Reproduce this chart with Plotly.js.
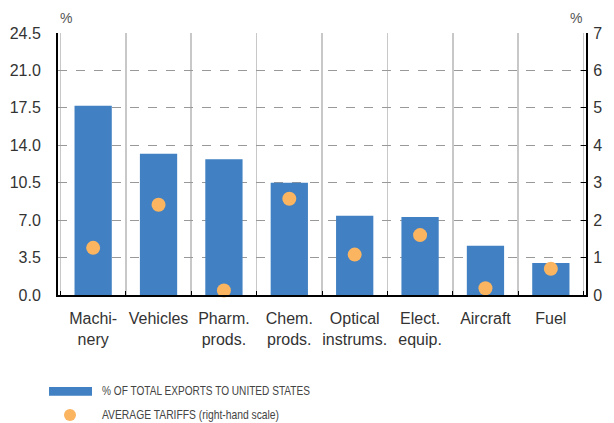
<!DOCTYPE html>
<html>
<head>
<meta charset="utf-8">
<script src="https://cdn.plot.ly/plotly-3.0.1.min.js"></script>
<style>html,body{margin:0;padding:0;background:#fff;}#chart{width:614px;height:423px;}</style>
</head>
<body>
<div id="chart"></div>
<script>
const categories = ["Machi-<br>nery", "Vehicles", "Pharm.<br>prods.", "Chem.<br>prods.", "Optical<br>instrums.", "Elect.<br>equip.", "Aircraft", "Fuel"];
const exportShare = [17.7, 13.2, 12.7, 10.5, 7.4, 7.3, 4.6, 3.0];
const avgTariff = [1.26, 2.41, 0.12, 2.57, 1.08, 1.6, 0.18, 0.7];
const leftTicks = [0, 3.5, 7, 10.5, 14, 17.5, 21, 24.5];
const rightTicks = [0, 1, 2, 3, 4, 5, 6, 7];
const legendLabels = ["% OF TOTAL EXPORTS TO UNITED STATES", "AVERAGE TARIFFS (right-hand scale)"];

const barColor = "#4180c2";
const dotColor = "#fbb460";
const fam = "'Liberation Sans', Arial, Helvetica, sans-serif";
const tickFont = {family: fam, size: 16, color: "#333"};
const catFont = {family: fam, size: 16, color: "#333"};
const legFont = {family: fam, size: 13, color: "#444"};

const traces = [
  {type: "bar", x: categories, y: exportShare, marker: {color: barColor}, width: 0.57, yaxis: "y", showlegend: false, hoverinfo: "none"},
  {type: "scatter", mode: "markers", x: categories, y: avgTariff, yaxis: "y2", marker: {color: dotColor, size: 14}, cliponaxis: false, showlegend: false, hoverinfo: "none"}
];

const layout = {
  width: 614, height: 423,
  margin: {l: 58, r: 28, t: 33, b: 128},
  paper_bgcolor: "#fff", plot_bgcolor: "#fff",
  showlegend: false,
  font: {family: fam},
  xaxis: {
    type: "category", tickson: "boundaries", showgrid: true, gridcolor: "#c8c8c8", gridwidth: 1.5,
    ticks: "inside", ticklen: 4, tickcolor: "#000", showline: true, linecolor: "#000", linewidth: 2,
    tickfont: catFont, tickangle: 0, zeroline: false, ticklabelstandoff: 8
  },
  yaxis: {
    range: [0, 24.5], tickvals: leftTicks, ticktext: leftTicks.map(v => v.toFixed(1)),
    showgrid: true, gridcolor: "#999", griddash: "dash", gridwidth: 1,
    showline: true, linecolor: "#000", linewidth: 2, zeroline: false, ticks: "",
    tickfont: tickFont, ticklabelstandoff: 12
  },
  yaxis2: {
    range: [0, 7], tickvals: rightTicks, overlaying: "y", side: "right",
    showgrid: false, showline: true, linecolor: "#000", linewidth: 2, zeroline: false,
    ticks: "inside", ticklen: 5, tickcolor: "#000", tickfont: tickFont, ticklabelstandoff: 2
  },
  annotations: [
    {xref: "paper", yref: "paper", x: 0, y: 1, xanchor: "left", yanchor: "bottom", yshift: 5, text: "%", showarrow: false, font: {family: fam, size: 14, color: "#555"}},
    {xref: "paper", yref: "paper", x: 0.996, y: 1, xanchor: "right", yanchor: "bottom", yshift: 5, text: "%", showarrow: false, font: {family: fam, size: 14, color: "#555"}},
    {xref: "paper", yref: "paper", x: 0.0795, y: -0.3626, xanchor: "left", yanchor: "middle", text: legendLabels[0], showarrow: false, font: legFont},
    {xref: "paper", yref: "paper", x: 0.0795, y: -0.456, xanchor: "left", yanchor: "middle", text: legendLabels[1], showarrow: false, font: legFont}
  ],
  shapes: [
    {type: "rect", xref: "paper", yref: "paper", x0: -0.017, x1: 0.0644, y0: -0.351, y1: -0.385, fillcolor: barColor, line: {width: 0}},
    {type: "circle", xref: "paper", yref: "paper", xsizemode: "pixel", ysizemode: "pixel", xanchor: 0.0227, yanchor: -0.458, x0: -6, x1: 6, y0: -6, y1: 6, fillcolor: dotColor, line: {width: 0}}
  ]
};

const legendWidths = [208, 177];
Plotly.newPlot("chart", traces, layout, {staticPlot: true, displayModeBar: false}).then(gd => {
  const texts = gd.querySelectorAll(".annotation-text");
  texts.forEach(t => {
    const i = legendLabels.indexOf(t.textContent);
    if (i >= 0) {
      const before = t.getBBox().x;
      t.setAttribute("textLength", legendWidths[i]);
      t.setAttribute("lengthAdjust", "spacingAndGlyphs");
      const after = t.getBBox().x;
      const prev = t.getAttribute("transform") || "";
      t.setAttribute("transform", prev + " translate(" + (before - after) + ",0)");
    }
  });
});
</script>
</body>
</html>
